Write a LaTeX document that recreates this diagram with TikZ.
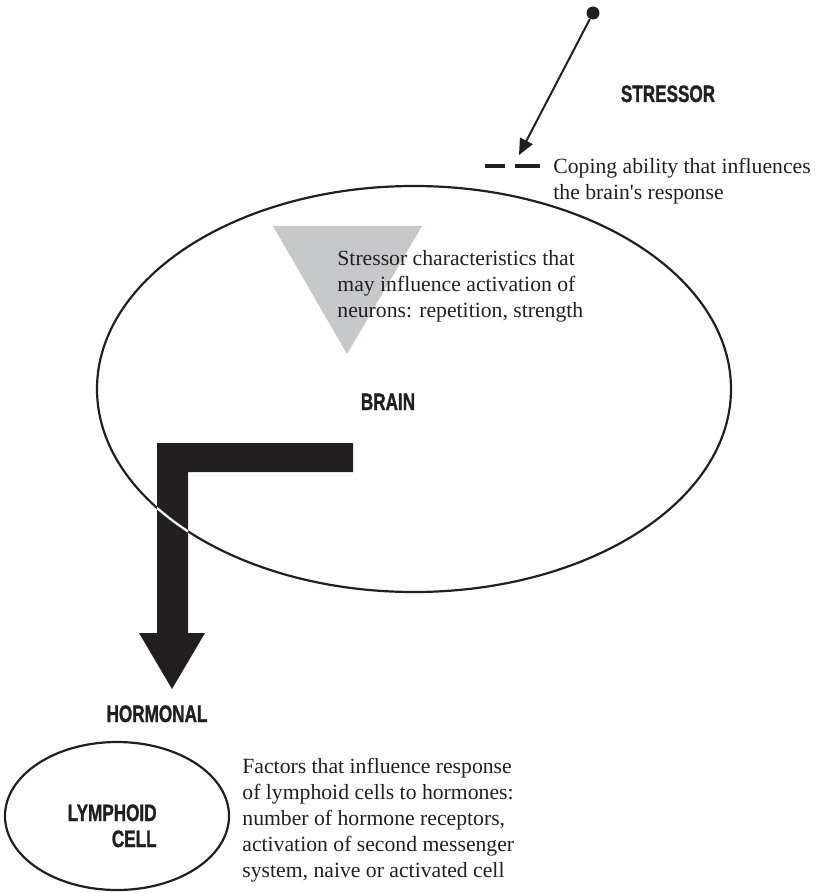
\documentclass[tikz,border=0pt]{standalone}
\usepackage{fontspec}
\setmainfont{Liberation Serif}
\newfontfamily\headfont[FakeStretch=0.72,FakeBold=1.2]{Liberation Sans Bold}
\usetikzlibrary{shapes.geometric,arrows.meta}
\definecolor{ink}{HTML}{231F20}
\definecolor{wedgegrey}{HTML}{C7C8CA}

\begin{document}
\begin{tikzpicture}[x=0.5pt,y=-0.5pt,
  every node/.style={inner sep=0pt,text=ink},
  head/.style={font=\headfont\fontsize{11.9}{13}\selectfont},
  note/.style={font=\fontsize{10.85}{13}\selectfont,align=left,anchor=north west},
  ring/.style={draw=ink,line width=1.1pt,ellipse}]
\useasboundingbox (0,0) rectangle (819,893);
\fill [wedgegrey] (273,226) -- (422,226) -- (347,354) -- cycle;
\node [ring,minimum width=317pt,minimum height=203pt] (brain) at (414,389) {};
\node [ring,minimum width=112pt,minimum height=74pt] (cell) at (117,816) {};
\node [circle,fill=ink,minimum size=6.5pt] (src) at (593,13) {};
\coordinate (tip) at (519,155);
\draw [ink,line width=1pt,-{Triangle[length=8pt,width=7pt]}] (src) -- (tip);
\draw [ink,line width=1.6pt] (485,166) -- (505,166) (515,166) -- (540,166);
\node [head,anchor=base] (stressor) at (668,102) {STRESSOR};
\node [note] (coping) at (553,158) {Coping ability that influences\\the brain\textquotesingle s response};
\node [note] (chars) at (337,250) {Stressor characteristics that\\may influence activation of\\neurons: repetition, strength};
\node [head,anchor=base] (brainlbl) at (388,410) {BRAIN};
\fill [ink] (157,443) -- (353,443) -- (353,472) -- (188,472) -- (188,633)
  -- (205,633) -- (172,689) -- (139,633) -- (157,633) -- cycle;
\begin{scope}
\clip (157,472) rectangle (188,633);
\node [ring,draw=white,minimum width=317pt,minimum height=203pt] at (414,389) {};
\end{scope}
\node [head,anchor=base] (hormonal) at (157,722) {HORMONAL};
\node [head,align=right,anchor=north east] (celllbl) at (157,804) {LYMPHOID\\CELL};
\node [note] (factors) at (242,758) {Factors that influence response\\of lymphoid cells to hormones:\\number of hormone receptors,\\activation of second messenger\\system, naive or activated cell};
\end{tikzpicture}
\end{document}
